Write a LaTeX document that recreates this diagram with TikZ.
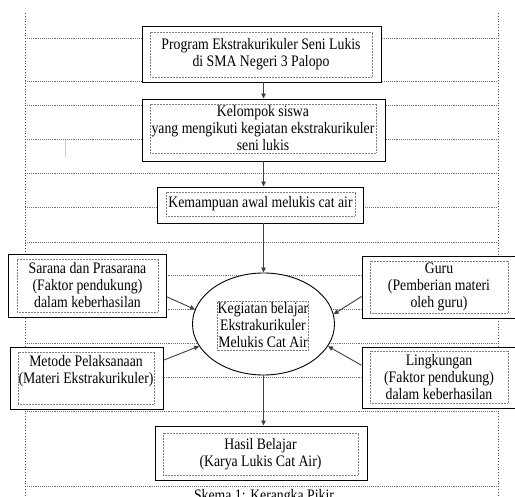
\documentclass[tikz,border=0pt]{standalone}
\usepackage{fontspec}
\setmainfont{Liberation Serif}[FakeStretch=0.86]
\usetikzlibrary{arrows.meta,shapes.geometric}

\begin{document}
\begin{tikzpicture}[x=1pt,y=-1pt,
    frame/.style={draw,line width=0.9pt,fill=white,inner sep=0pt},
    label/.style={draw=gray,densely dotted,line width=0.5pt,inner sep=0pt,align=center,font=\fontsize{16}{17}\selectfont},
    grid/.style={black!55,densely dotted,line width=0.9pt},
    link/.style={draw=black!75,line width=0.9pt,-{Triangle[length=5pt,width=4.5pt]}}]
  \useasboundingbox (0,0) rectangle (515,497);
  % dotted table lines of the page
  \foreach \y in {38,81,105,139,173,207,242,275,309,343,377,411,486}
    \draw[grid] (25,\y) -- (498,\y);
  \draw[black!70,dotted,line width=0.8pt] (25,13) -- (25,497) (498,13) -- (498,497);
  \draw[black!20,line width=0.6pt] (65,140) -- (65,157);
  % boxes
  \node[frame,minimum width=239,minimum height=56] (prog) at (261.5,54) {};
  \node[label,minimum width=222,minimum height=45] (progtext) at (261,54.5) {Program Ekstrakurikuler Seni Lukis\\di SMA Negeri 3 Palopo};
  \node[frame,minimum width=243,minimum height=62] (kel) at (263.5,130) {};
  \node[label,minimum width=226,minimum height=49] (keltext) at (263,128.5) {Kelompok siswa\\yang mengikuti kegiatan ekstrakurikuler\\seni lukis};
  \node[frame,minimum width=206,minimum height=36] (kem) at (260,205) {};
  \node[label,minimum width=189,minimum height=24] (kemtext) at (260.5,204) {Kemampuan awal melukis cat air};
  \node[frame,minimum width=158,minimum height=63] (sarana) at (87,285.5) {};
  \node[label,minimum width=141,minimum height=53] (saranatext) at (87.5,285.5) {Sarana dan Prasarana\\(Faktor pendukung)\\dalam keberhasilan};
  \node[frame,minimum width=153,minimum height=62] (guru) at (438.5,287) {};
  \node[label,minimum width=138,minimum height=52] (gurutext) at (439,287) {Guru\\(Pemberian materi\\oleh guru)};
  \node[frame,ellipse,minimum width=142,minimum height=102] (act) at (263.5,324) {};
  \node[label,minimum width=90,minimum height=49] (acttext) at (263,325.5) {Kegiatan belajar\\Ekstrakurikuler\\Melukis Cat Air};
  \node[frame,minimum width=153,minimum height=62] (metode) at (86.5,378) {};
  \node[label,minimum width=136,minimum height=52] (metodetext) at (86,378) {Metode Pelaksanaan\\(Materi Ekstrakurikuler)\\~};
  \node[frame,minimum width=153,minimum height=61] (ling) at (438.5,377.5) {};
  \node[label,minimum width=138,minimum height=52] (lingtext) at (439,377) {Lingkungan\\(Faktor pendukung)\\dalam keberhasilan};
  \node[frame,minimum width=212,minimum height=54] (hasil) at (261,453) {};
  \node[label,minimum width=195,minimum height=42] (hasiltext) at (260.5,454) {Hasil Belajar\\(Karya Lukis Cat Air)};
  \node[font=\fontsize{16}{17}\selectfont,anchor=base] (caption) at (264,501) {Skema 1: Kerangka Pikir};
  % arrows
  \draw[link] (prog.south -| act) -- (kel.north -| act);
  \draw[link] (kel.south -| act) -- (kem.north -| act);
  \draw[link] (kem.south -| act) -- (act.north);
  \draw[link] (act.south) -- (hasil.north -| act);
  \draw[link] (sarana.-8) -- (act.168);
  \draw[link] (metode.13) -- (act.199);
  \draw[link] (guru.187) -- (act.8);
  \draw[link] (ling.171) -- (act.-19);
\end{tikzpicture}
\end{document}
